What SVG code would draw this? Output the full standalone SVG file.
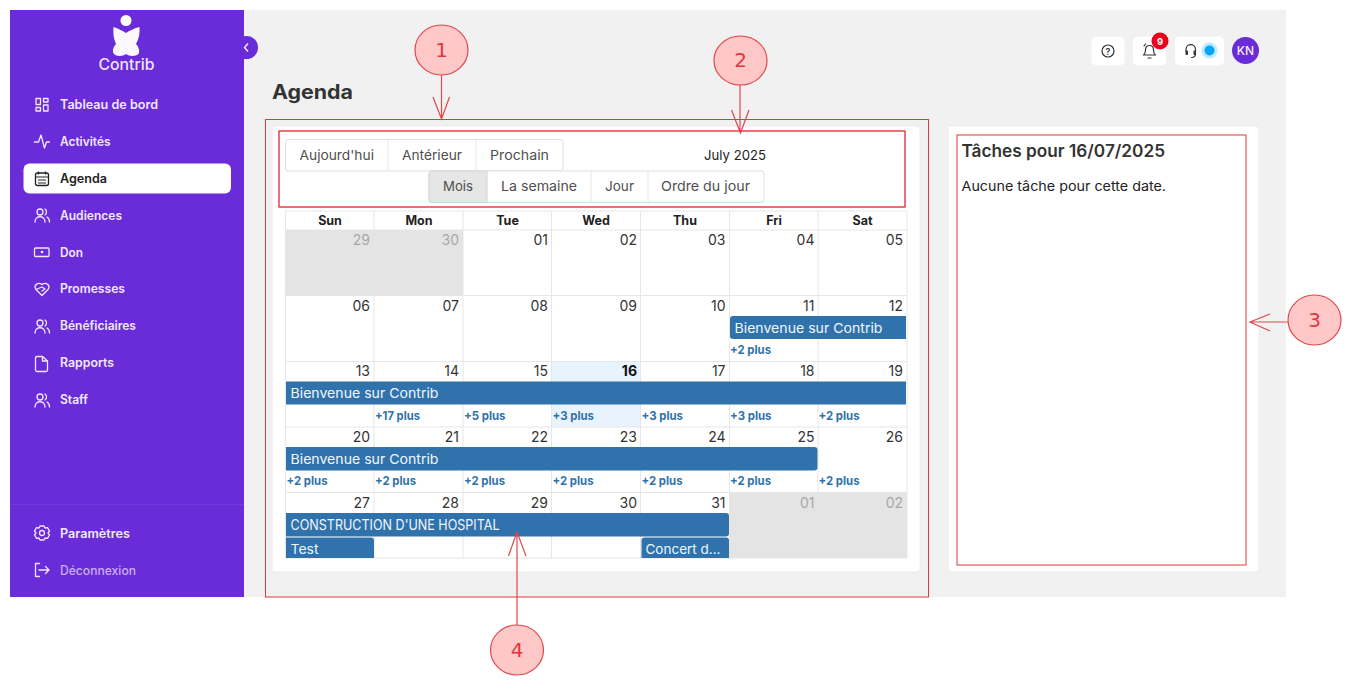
<svg xmlns="http://www.w3.org/2000/svg" width="1351" height="684" viewBox="0 0 1351 684">
<defs>
<style>
text{font-family:"Inter","Noto Sans","Liberation Sans",sans-serif}
.nav{fill:#f1e9ff;font-size:12.5px;font-weight:600}
.ico{fill:none;stroke:#f1e9ff;stroke-width:1.3;stroke-linecap:round;stroke-linejoin:round}
.card{fill:#fff;stroke:#ececec;stroke-width:1}
.btn{fill:#fff;stroke:#dedede;stroke-width:1}
.btx{fill:#4f4f4f;font-size:13.5px}
.g{stroke:#e6e6e6;stroke-width:1;fill:none}
.hd{fill:#222;font-size:12.5px;font-weight:700;text-anchor:middle}
.d{fill:#333;font-size:14px;text-anchor:end}
.o{fill:#a8a8a8;font-size:14px;text-anchor:end}
.ev{fill:#3072ac}
.evt{fill:#f2f6fa;font-size:13.5px}
.pl{fill:#3072ac;font-size:12px;font-weight:700}
.box{fill:none;stroke:#e8343a;stroke-width:1}
.call{fill:#ffc8c8;stroke:#e2474c;stroke-width:1.2}
.num{fill:#e2363c;font-size:20px;text-anchor:middle;font-family:"DejaVu Sans",sans-serif}
.arr{fill:none;stroke:#e2474c;stroke-width:1.2}
.tico{fill:none;stroke:#333;stroke-width:1.2;stroke-linecap:round;stroke-linejoin:round}
</style>
</defs>
<rect width="1351" height="684" fill="#fff"/>
<rect id="main-bg" x="244" y="10" width="1042" height="587" fill="#f1f1f2"/>

<g id="sidebar">
<rect x="10" y="10" width="234" height="587" fill="#6a2bd9"/>
<g id="logo">
<circle cx="126" cy="20.500" r="5.500" fill="#fff"/>
<path d="M113.500 27C117 28 123 31 126 33C129 31 135 28 139.500 27C140 33 139 39 136 44C139 47 140 52 138.500 54C136 56.500 129 56.500 126 54C123 56.500 116 56.500 114 54C112 52 113 47 116 44C113.500 39 113 33 113.500 27Z" fill="#fbf8ff"/>
<text x="98.500" y="69.500" font-size="15.500" font-weight="500" fill="#eee4ff" textLength="56" lengthAdjust="spacingAndGlyphs">Contrib</text>
</g>
<g id="collapse"><circle cx="246.500" cy="47.500" r="11.500" fill="#6a2bd9"/><path d="M248 43.500L244.500 47.500L248 51.500" fill="none" stroke="#fff" stroke-width="1.300"/></g>
<rect id="nav-active" x="23.500" y="163.500" width="207.500" height="30" rx="6" fill="#fff"/>
<g id="nav-tableau"><path class="ico" d="M36 98.500h4.500v6h-4.500zM43.500 98.500h4.500v3.500h-4.500zM43.500 105h4.500v6h-4.500zM36 107.500h4.500v3.500h-4.500z"/><text class="nav" x="60" y="108.500" textLength="98" lengthAdjust="spacingAndGlyphs">Tableau de bord</text></g>
<g id="nav-activites"><path class="ico" d="M34.500 142h4l2.500-7 3.500 13 2-6h3"/><text class="nav" x="60" y="145.500" textLength="50.500" lengthAdjust="spacingAndGlyphs">Activités</text></g>
<g id="nav-agenda"><rect x="35.500" y="173" width="13" height="12.500" rx="2" fill="none" stroke="#222" stroke-width="1.300"/><path d="M35.500 177h13M38.500 171.500v3M45.500 171.500v3M38 180h8M38 183h8" stroke="#222" stroke-width="1.200" fill="none"/><text x="60" y="182.500" fill="#222" font-size="12.500" font-weight="600" textLength="47" lengthAdjust="spacingAndGlyphs">Agenda</text></g>
<g id="nav-audiences"><circle class="ico" cx="40" cy="212" r="3"/><path class="ico" d="M35 222c0-7 10-7 10 0M45 209c2 1 2 5 0 6M47 217c2 1 2.500 3 2.500 5"/><text class="nav" x="60" y="219.500" textLength="62" lengthAdjust="spacingAndGlyphs">Audiences</text></g>
<g id="nav-don"><rect class="ico" x="34.500" y="248" width="14.500" height="8.500" rx="1"/><circle cx="42" cy="252" r="1.300" fill="#f1e9ff"/><text class="nav" x="60" y="256.500" textLength="23" lengthAdjust="spacingAndGlyphs">Don</text></g>
<g id="nav-promesses"><path class="ico" d="M42 295.500l-6-6c-3-4 2-8 6-5 4-3 9 1 6 5zM37 289l5-2 3 2-3 2"/><text class="nav" x="60" y="293" textLength="65" lengthAdjust="spacingAndGlyphs">Promesses</text></g>
<g id="nav-beneficiaires"><circle class="ico" cx="40" cy="323" r="3"/><path class="ico" d="M35 333c0-7 10-7 10 0M45 320c2 1 2 5 0 6M47 328c2 1 2.500 3 2.500 5"/><text class="nav" x="60" y="330" textLength="76" lengthAdjust="spacingAndGlyphs">Bénéficiaires</text></g>
<g id="nav-rapports"><path class="ico" d="M37 356.500h5.500l5 4.500v9a1.500 1.500 0 0 1-1.500 1.500h-9a1.500 1.500 0 0 1-1.500-1.500v-12a1.500 1.500 0 0 1 1.500-1.500zM42.500 356.500v4.500h5"/><text class="nav" x="60" y="367" textLength="54" lengthAdjust="spacingAndGlyphs">Rapports</text></g>
<g id="nav-staff"><circle class="ico" cx="40" cy="397" r="3"/><path class="ico" d="M35 407c0-7 10-7 10 0M45 394c2 1 2 5 0 6M47 402c2 1 2.500 3 2.500 5"/><text class="nav" x="60" y="403.500" textLength="28" lengthAdjust="spacingAndGlyphs">Staff</text></g>
<path d="M10 504.500H244" stroke="#7438dc" stroke-width="1"/>
<g id="nav-parametres"><circle class="ico" cx="42" cy="533" r="2.500"/><path class="ico" d="M40 526h4l1 2 2.500-.3 2 3.300-1.500 2 1.500 2-2 3.300-2.500-.3-1 2h-4l-1-2-2.500.3-2-3.300 1.500-2-1.500-2 2-3.300 2.500.3z"/><text class="nav" x="60" y="537.500" textLength="70" lengthAdjust="spacingAndGlyphs">Paramètres</text></g>
<g id="nav-deconnexion"><path class="ico" d="M39.500 563.500h-4v13h4M39 570h9.500M45.500 566.500l3.500 3.500-3.500 3.500"/><text class="nav" style="fill:#c9aef2;font-weight:500" x="60" y="574.500" textLength="76" lengthAdjust="spacingAndGlyphs">Déconnexion</text></g>
</g>

<g id="topbar">
<g id="btn-help"><rect x="1091.500" y="36.500" width="33" height="29" rx="5" fill="#fff"/><circle class="tico" cx="1108" cy="51" r="6"/><text x="1108" y="54.500" font-size="9" font-weight="600" fill="#333" text-anchor="middle">?</text></g>
<g id="btn-bell"><rect x="1133" y="36.500" width="33" height="29" rx="5" fill="#fff"/><path class="tico" d="M1143.500 55c1.500-1 2-3 2-5 0-6 8-6 8 0 0 2 .5 4 2 5zM1148 58h3M1144 46l1.500-2M1155 46l-1.500-2"/><circle cx="1160" cy="41" r="8.500" fill="#e8001c"/><text x="1160" y="44.500" font-size="9.500" font-weight="700" fill="#fff" text-anchor="middle">9</text></g>
<g id="btn-support"><rect x="1175" y="36.500" width="49" height="29" rx="5" fill="#fff"/><path class="tico" d="M1186 51v-1.500c0-6.500 9.500-6.500 9.500 0V51M1195.500 54c0 2.500-1.500 3.500-4 3.500"/><rect x="1185.500" y="50.500" width="2.500" height="4.500" rx="1" fill="#333"/><rect x="1193.500" y="50.500" width="2.500" height="4.500" rx="1" fill="#333"/><circle cx="1209.500" cy="50.500" r="8" fill="#bdeaff"/><circle cx="1209.500" cy="50.500" r="5" fill="#00a6fb"/></g>
<g id="avatar"><circle cx="1245.500" cy="50.500" r="13.500" fill="#6a2bd9"/><text x="1245.500" y="55" font-size="12" font-weight="500" fill="#f4eeff" text-anchor="middle">KN</text></g>
</g>

<text id="page-title" x="272" y="99" font-size="20" font-weight="700" fill="#333" textLength="81" lengthAdjust="spacingAndGlyphs">Agenda</text>

<g id="calendar-card">
<rect class="card" x="272" y="126" width="648" height="446" rx="3"/>
<g id="toolbar">
<rect class="btn" x="285.500" y="139.500" width="277.500" height="31.500" rx="3"/>
<path class="g" d="M388 140v31M476 140v31"/>
<text class="btx" x="299.500" y="159.500" textLength="74.500" lengthAdjust="spacingAndGlyphs">Aujourd'hui</text>
<text class="btx" x="402" y="159.500" textLength="60" lengthAdjust="spacingAndGlyphs">Antérieur</text>
<text class="btx" x="490" y="159.500" textLength="59" lengthAdjust="spacingAndGlyphs">Prochain</text>
<text x="704" y="159.500" font-size="13.500" fill="#222" textLength="62" lengthAdjust="spacingAndGlyphs">July 2025</text>
<rect class="btn" x="429" y="171" width="335" height="31.500" rx="3"/>
<path d="M432 171H487V202.500H432a3 3 0 0 1-3-3V174a3 3 0 0 1 3-3z" fill="#e6e6e6" stroke="#d4d4d4"/>
<path class="g" d="M591 171v31M648 171v31"/>
<text class="btx" x="443" y="191" textLength="30" lengthAdjust="spacingAndGlyphs">Mois</text>
<text class="btx" x="501" y="191" textLength="76" lengthAdjust="spacingAndGlyphs">La semaine</text>
<text class="btx" x="605" y="191" textLength="29" lengthAdjust="spacingAndGlyphs">Jour</text>
<text class="btx" x="661" y="191" textLength="89" lengthAdjust="spacingAndGlyphs">Ordre du jour</text>
</g>
<g id="grid">
<rect x="285.500" y="230" width="177.500" height="65.500" fill="#e4e4e4"/>
<rect x="729.500" y="492.500" width="177.500" height="65.500" fill="#e4e4e4"/>
<rect x="551.500" y="361.500" width="89" height="65.500" fill="#e8f4fd"/>
<path class="g" d="M285.500 211H907V558H285.500ZM285.500 230H907M285.500 295.500H907M285.500 361.500H907M285.500 427H907M285.500 492.500H907M374 211V558M463 211V558M551.500 211V558M640.500 211V558M729.500 211V558M818 211V558"/>
<text class="hd" x="330" y="225">Sun</text><text class="hd" x="419" y="225">Mon</text><text class="hd" x="507.500" y="225">Tue</text><text class="hd" x="596" y="225">Wed</text><text class="hd" x="685" y="225">Thu</text><text class="hd" x="774" y="225">Fri</text><text class="hd" x="862.500" y="225">Sat</text>
<text class="o" x="370" y="244.500">29</text><text class="o" x="459" y="244.500">30</text><text class="d" x="548" y="244.500">01</text><text class="d" x="637" y="244.500">02</text><text class="d" x="725.500" y="244.500">03</text><text class="d" x="814.500" y="244.500">04</text><text class="d" x="903" y="244.500">05</text>
<text class="d" x="370" y="310.500">06</text><text class="d" x="459" y="310.500">07</text><text class="d" x="548" y="310.500">08</text><text class="d" x="637" y="310.500">09</text><text class="d" x="725.500" y="310.500">10</text><text class="d" x="814.500" y="310.500">11</text><text class="d" x="903" y="310.500">12</text>
<text class="d" x="370" y="376">13</text><text class="d" x="459" y="376">14</text><text class="d" x="548" y="376">15</text><text class="d" x="637" y="376" style="font-weight:700;fill:#111">16</text><text class="d" x="725.500" y="376">17</text><text class="d" x="814.500" y="376">18</text><text class="d" x="903" y="376">19</text>
<text class="d" x="370" y="442">20</text><text class="d" x="459" y="442">21</text><text class="d" x="548" y="442">22</text><text class="d" x="637" y="442">23</text><text class="d" x="725.500" y="442">24</text><text class="d" x="814.500" y="442">25</text><text class="d" x="903" y="442">26</text>
<text class="d" x="370" y="507.500">27</text><text class="d" x="459" y="507.500">28</text><text class="d" x="548" y="507.500">29</text><text class="d" x="637" y="507.500">30</text><text class="d" x="725.500" y="507.500">31</text><text class="o" x="814.500" y="507.500">01</text><text class="o" x="903" y="507.500">02</text>
</g>
<g id="events">
<path class="ev" d="M733 316H906V339H733a3 3 0 0 1-3-3V319a3 3 0 0 1 3-3z"/>
<text class="evt" x="734.500" y="332.500" textLength="148" lengthAdjust="spacingAndGlyphs">Bienvenue sur Contrib</text>
<rect class="ev" x="286" y="381.500" width="620" height="23"/>
<text class="evt" x="290.500" y="398" textLength="148" lengthAdjust="spacingAndGlyphs">Bienvenue sur Contrib</text>
<path class="ev" d="M286 447H814.500a3 3 0 0 1 3 3V467.500a3 3 0 0 1-3 3H286z"/>
<text class="evt" x="290.500" y="464" textLength="148" lengthAdjust="spacingAndGlyphs">Bienvenue sur Contrib</text>
<path class="ev" d="M286 513H726a3 3 0 0 1 3 3V533.500a3 3 0 0 1-3 3H286z"/>
<text class="evt" x="290.500" y="529.500" font-size="14" textLength="209" lengthAdjust="spacingAndGlyphs" style="font-size:14px">CONSTRUCTION D'UNE HOSPITAL</text>
<path class="ev" d="M286 537.500H371a3 3 0 0 1 3 3V558H286z"/>
<text class="evt" x="290.500" y="554" textLength="28" lengthAdjust="spacingAndGlyphs">Test</text>
<path class="ev" d="M644.500 537.500H726a3 3 0 0 1 3 3V558H641.500V540.500a3 3 0 0 1 3-3z"/>
<text class="evt" x="645.500" y="554" textLength="75" lengthAdjust="spacingAndGlyphs">Concert d...</text>
<text class="pl" x="730" y="354" textLength="41" lengthAdjust="spacingAndGlyphs">+2 plus</text>
<text class="pl" x="375" y="419.500" textLength="45" lengthAdjust="spacingAndGlyphs">+17 plus</text>
<text class="pl" x="464" y="419.500" textLength="41.500" lengthAdjust="spacingAndGlyphs">+5 plus</text>
<text class="pl" x="552.500" y="419.500" textLength="41.500" lengthAdjust="spacingAndGlyphs">+3 plus</text>
<text class="pl" x="641.500" y="419.500" textLength="41.500" lengthAdjust="spacingAndGlyphs">+3 plus</text>
<text class="pl" x="730" y="419.500" textLength="41.500" lengthAdjust="spacingAndGlyphs">+3 plus</text>
<text class="pl" x="818.500" y="419.500" textLength="41" lengthAdjust="spacingAndGlyphs">+2 plus</text>
<text class="pl" x="286.500" y="484.500" textLength="41" lengthAdjust="spacingAndGlyphs">+2 plus</text>
<text class="pl" x="375" y="484.500" textLength="41" lengthAdjust="spacingAndGlyphs">+2 plus</text>
<text class="pl" x="464" y="484.500" textLength="41" lengthAdjust="spacingAndGlyphs">+2 plus</text>
<text class="pl" x="552.500" y="484.500" textLength="41" lengthAdjust="spacingAndGlyphs">+2 plus</text>
<text class="pl" x="641.500" y="484.500" textLength="41" lengthAdjust="spacingAndGlyphs">+2 plus</text>
<text class="pl" x="730" y="484.500" textLength="41" lengthAdjust="spacingAndGlyphs">+2 plus</text>
<text class="pl" x="818.500" y="484.500" textLength="41" lengthAdjust="spacingAndGlyphs">+2 plus</text>
</g>
</g>

<g id="tasks-card">
<rect class="card" x="948" y="126" width="311" height="446" rx="3"/>
<text x="961.500" y="157" font-size="17" font-weight="600" fill="#333" textLength="203.500" lengthAdjust="spacingAndGlyphs">Tâches pour 16/07/2025</text>
<text x="961.500" y="191" font-size="13.500" fill="#222" textLength="204.500" lengthAdjust="spacingAndGlyphs">Aucune tâche pour cette date.</text>
</g>

<g id="highlights">
<rect id="box-1" class="box" x="265.500" y="119.500" width="663" height="477.500"/>
<rect id="box-2" class="box" style="stroke-width:1.400" x="279" y="131" width="626" height="76"/>
<rect id="box-3" class="box" x="957" y="135" width="289" height="430"/>
</g>

<g id="connectors">
<path class="arr" d="M441.500 75V119M433 97L441.500 119L449.500 97"/>
<path class="arr" d="M740 85V133M731.500 110L740.500 133L749 110"/>
<path class="arr" d="M1288 322H1250M1270 314L1250 322L1270 331"/>
<path class="arr" d="M517 625V532M508.500 556L517 532L526 556"/>
</g>

<g id="callout-1"><ellipse class="call" cx="441.500" cy="50" rx="26.500" ry="25"/><text class="num" x="441.500" y="57">1</text></g>
<g id="callout-2"><ellipse class="call" cx="740.500" cy="60.500" rx="26.500" ry="24.500"/><text class="num" x="740.500" y="67">2</text></g>
<g id="callout-3"><ellipse class="call" cx="1314.500" cy="320" rx="26.500" ry="25"/><text class="num" x="1314.500" y="327">3</text></g>
<g id="callout-4"><ellipse class="call" cx="517" cy="650" rx="26.500" ry="25"/><text class="num" x="517" y="657">4</text></g>
</svg>
